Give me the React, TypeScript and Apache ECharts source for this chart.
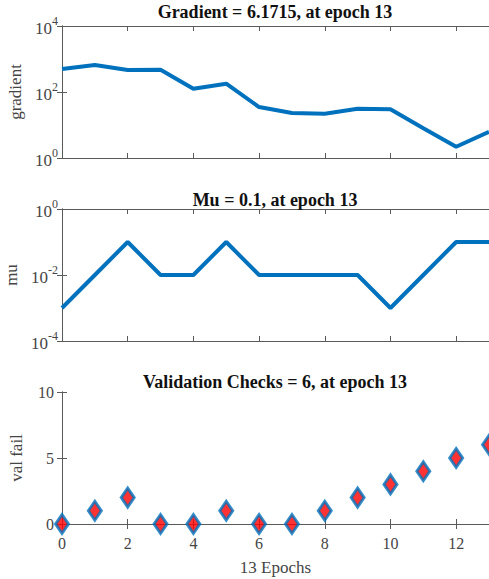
import React, { useEffect, useRef } from "react";
import * as echarts from "echarts";

const epochs = [0, 1, 2, 3, 4, 5, 6, 7, 8, 9, 10, 11, 12, 13];
const gradientValues = [500, 660, 465, 475, 125, 178, 35, 23, 22, 31, 30, 8, 2.2, 6.1715];
const muValues = [0.001, 0.01, 0.1, 0.01, 0.01, 0.1, 0.01, 0.01, 0.01, 0.01, 0.001, 0.01, 0.1, 0.1];
const valFailValues = [0, 1, 2, 0, 0, 1, 0, 0, 1, 2, 3, 4, 5, 6];
const titles = [
  "Gradient = 6.1715, at epoch 13",
  "Mu = 0.1, at epoch 13",
  "Validation Checks = 6, at epoch 13",
];
const yNames = ["gradient", "mu", "val fail"];
const xName = "13 Epochs";

const FONT = "'Liberation Serif', 'Times New Roman', serif";
const BLUE = "#0072BD";
const AXIS = "#5a5a5a";
const LABEL = "#454545";

const grids = [
  { left: 62, right: 0, top: 26, height: 132 },
  { left: 62, right: 0, top: 209, height: 132 },
  { left: 62, right: 0, top: 392, height: 132 },
];

const logFormatter = (v: number) => {
  const e = Math.round(Math.log10(v));
  return `{b|10}{s|${e}}`;
};

const richLabel = {
  b: { fontFamily: FONT, fontSize: 17, color: LABEL, lineHeight: 22, verticalAlign: "bottom" },
  s: { fontFamily: FONT, fontSize: 12, color: LABEL, lineHeight: 22, verticalAlign: "top", padding: [0, 0, 11, 0] },
};

export default function App() {
  const ref = useRef<HTMLDivElement>(null);
  useEffect(() => {
    if (!ref.current) return;
    const chart = echarts.init(ref.current, null, { renderer: "svg" });
    const tick = { show: true, inside: true, length: 5, lineStyle: { color: AXIS } };
    const line = { show: true, lineStyle: { color: AXIS, width: 1 } };
    const xAxisBase = (i: number, top: boolean) => ({
      type: "value",
      gridIndex: i,
      position: top ? "top" : "bottom",
      min: 0,
      max: 13,
      interval: 2,
      axisLine: line,
      axisTick: tick,
      splitLine: { show: false },
      axisLabel:
        i === 2 && !top
          ? {
              show: true,
              fontFamily: FONT,
              fontSize: 16,
              color: LABEL,
              margin: 11,
              formatter: (v: number) => (v % 2 === 0 ? String(v) : ""),
            }
          : { show: false },
      name: i === 2 && !top ? xName : "",
      nameLocation: "middle",
      nameGap: 35,
      nameTextStyle: { fontFamily: FONT, fontSize: 17, color: LABEL },
    });
    const yScale = (i: number) =>
      i === 0
        ? { type: "log", logBase: 10, min: 1, max: 10000, interval: 2 }
        : i === 1
        ? { type: "log", logBase: 10, min: 0.0001, max: 1, interval: 2 }
        : { type: "value", min: 0, max: 10, interval: 5 };
    const yAxisBase = (i: number, right: boolean) => ({
      ...yScale(i),
      gridIndex: i,
      position: right ? "right" : "left",
      axisLine: line,
      axisTick: tick,
      splitLine: { show: false },
      axisLabel: right
        ? { show: false }
        : i < 2
        ? { formatter: logFormatter, rich: richLabel, margin: 4 }
        : { fontFamily: FONT, fontSize: 16, color: LABEL, margin: 8 },
      name: right ? "" : yNames[i],
      nameLocation: "middle",
      nameGap: 37,
      nameTextStyle: { fontFamily: FONT, fontSize: 17, color: LABEL },
    });
    chart.setOption({
      animation: false,
      backgroundColor: "#ffffff",
      title: titles.map((t, i) => ({
        text: t,
        left: 275,
        textAlign: "center",
        padding: 0,
        top: [3, 191, 373][i],
        textStyle: { fontFamily: FONT, fontSize: 18, fontWeight: "bold", color: "#111" },
      })),
      grid: grids.map((g) => ({ ...g, show: false, containLabel: false, outerBoundsMode: "none" })),
      xAxis: [
        xAxisBase(0, false),
        xAxisBase(1, false),
        xAxisBase(2, false),
        xAxisBase(0, true),
        xAxisBase(1, true),
        xAxisBase(2, true),
      ],
      yAxis: [
        yAxisBase(0, false),
        yAxisBase(1, false),
        yAxisBase(2, false),
        yAxisBase(0, true),
        yAxisBase(1, true),
        yAxisBase(2, true),
      ],
      series: [
        {
          type: "line",
          xAxisIndex: 0,
          yAxisIndex: 0,
          data: epochs.map((e, i) => [e, gradientValues[i]]),
          showSymbol: false,
          lineStyle: { color: BLUE, width: 4 },
        },
        {
          type: "line",
          xAxisIndex: 1,
          yAxisIndex: 1,
          data: epochs.map((e, i) => [e, muValues[i]]),
          showSymbol: false,
          lineStyle: { color: BLUE, width: 4 },
        },
        {
          type: "scatter",
          xAxisIndex: 2,
          yAxisIndex: 2,
          clip: false,
          data: epochs.map((e, i) => [e, valFailValues[i]]),
          symbol: "diamond",
          symbolSize: [13, 19],
          itemStyle: { color: "#ff0000", borderColor: BLUE, borderWidth: 3 },
        },
      ],
    });
    return () => chart.dispose();
  }, []);
  return (
    <div
      ref={ref}
      style={{ position: "fixed", left: 0, top: 0, width: 489, height: 579, background: "#fff" }}
    />
  );
}
